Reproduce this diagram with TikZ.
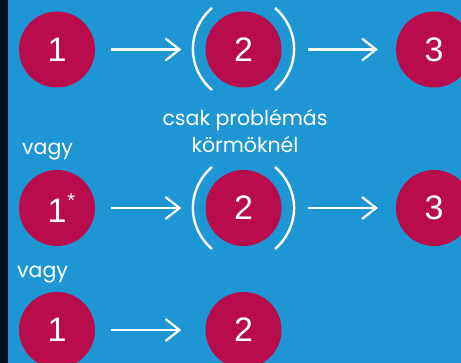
\documentclass[tikz,border=0pt]{standalone}
\usepackage{fontspec}
\newfontfamily\numfont{Liberation Sans}
\newfontfamily\labfont{Poppins}
\usetikzlibrary{arrows.meta,calc}
\definecolor{bgblue}{HTML}{1E96D3}
\definecolor{darkstrip}{HTML}{03101E}
\definecolor{crimson}{HTML}{B80C4C}
\tikzset{
  stepcirc/.style={circle,fill=crimson,minimum size=76pt,inner sep=0pt,text=white,font=\numfont\fontsize{34}{34}\selectfont},
  flow/.style={draw=white,line width=2.2pt,-{Straight Barb[length=14pt,width=22pt,line width=2.2pt]}},
  paren/.style={draw=white,line width=2.4pt},
  lab/.style={text=white,font=\labfont\fontsize{20.5}{27}\selectfont,inner sep=0pt}
}
\begin{document}
\begin{tikzpicture}[x=1pt,y=-1pt]
\useasboundingbox (0,0) rectangle (461,363);
\clip (0,0) rectangle (461,363);
\fill[darkstrip] (0,0) rectangle (8,363);
\fill[bgblue] (8,0) rectangle (461,363);
% row 1
\node[stepcirc] (a1) at (57,49.5) {1};
\node[stepcirc] (a2) at (243.5,49.5) {2};
\node[stepcirc] (a3) at (434,49.5) {3};
\draw[flow,shorten <=16pt,shorten >=24pt] (a1) -- (a2);
\draw[flow,shorten <=26pt,shorten >=18pt] (a2) -- (a3);
\draw[paren] (212,8) .. controls (186.5,30) and (186.5,68) .. (212,90);
\draw[paren] (275,8) .. controls (300.5,30) and (300.5,68) .. (275,90);
\node[lab,anchor=base] (note1) at (245,126) {csak problémás};
\node[lab,anchor=base] (note2) at (245,153) {körmöknél};
% row 2
\node[lab,anchor=base west] (or1) at (22,155) {vagy};
\node[stepcirc] (b1) at (57,208) {1\rlap{\kern1pt\raisebox{15pt}{\fontsize{20}{20}\selectfont*}}};
\node[stepcirc] (b2) at (243.5,208) {2};
\node[stepcirc] (b3) at (434,208) {3};
\draw[flow,shorten <=16pt,shorten >=24pt] (b1) -- (b2);
\draw[flow,shorten <=26pt,shorten >=18pt] (b2) -- (b3);
\draw[paren] (212,167) .. controls (186.5,189) and (186.5,227) .. (212,249);
\draw[paren] (275,167) .. controls (300.5,189) and (300.5,227) .. (275,249);
% row 3
\node[lab,anchor=base west] (or2) at (17,278) {vagy};
\node[stepcirc] (c1) at (57,330) {1};
\node[stepcirc] (c2) at (243.5,330) {2};
\draw[flow,shorten <=16pt,shorten >=24pt] (c1) -- (c2);
\end{tikzpicture}
\end{document}
